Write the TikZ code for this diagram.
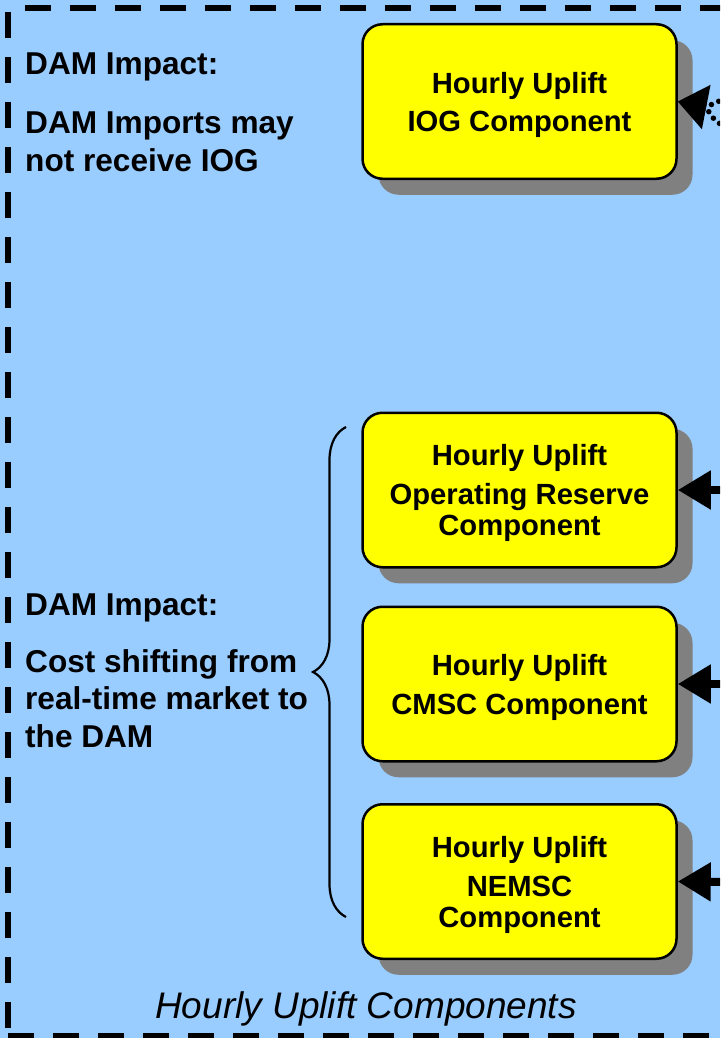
\documentclass[tikz,border=0pt]{standalone}
\usepackage{fontspec}
\setmainfont{Liberation Sans}
\usetikzlibrary{arrows.meta,shadows,decorations.pathreplacing}
\definecolor{panelblue}{HTML}{99CCFF}
\definecolor{boxyellow}{HTML}{FFFF00}
\definecolor{shadowgray}{HTML}{808080}
\tikzset{
  component/.style={draw=black, line width=2.5pt, fill=boxyellow,
    rounded corners=20pt, minimum width=314pt, minimum height=154.5pt,
    inner sep=0pt,
    drop shadow={shadow xshift=16pt, shadow yshift=-16pt,
      fill=shadowgray, opacity=1, draw=none}},
  boxtext/.style={inner sep=0pt, align=center,
    font=\fontsize{29.2}{31}\selectfont\bfseries},
  sidetext/.style={anchor=base west, inner sep=0pt,
    font=\fontsize{31.6}{37}\selectfont\bfseries},
  caption/.style={anchor=base, inner sep=0pt,
    font=\fontsize{37}{40}\selectfont\itshape},
  frame/.style={line width=6pt, dash pattern=on 26pt off 19pt},
  feed/.style={line width=8pt, -{Triangle[length=33pt,width=37pt]}},
  dotfeed/.style={line width=5.5pt, line cap=round,
    dash pattern=on 0pt off 8pt},
  bracket/.style={line width=2.2pt, decorate,
    decoration={brace, amplitude=33pt}}
}
\begin{document}
\begin{tikzpicture}[x=1pt,y=-1pt]
  \useasboundingbox (0,0) rectangle (720,1038);
  \clip (0,0) rectangle (720,1038);
  \fill[panelblue] (0,0) rectangle (720,1038);

  % dashed panel outline (right edge lies beyond the panel)
  \draw[frame] (25,8) -- (760,8);
  \draw[frame] (8,12) -- (8,1060);
  \draw[frame] (8,1036) -- (760,1036);

  % uplift component boxes
  \node[component] (iog) at (519.5,101.5) {};
  \node[component] (opres) at (519.5,490) {};
  \node[component] (cmsc) at (519.5,684) {};
  \node[component] (nemsc) at (519.5,881.5) {};
  \node[boxtext] (iogText) at ([yshift=-3pt]iog.center)
    {Hourly Uplift\\[7pt]IOG Component};
  \node[boxtext] (opresText) at ([yshift=-3pt]opres.center)
    {Hourly Uplift\\[8pt]Operating Reserve\\Component};
  \node[boxtext] (cmscText) at ([yshift=-3pt]cmsc.center)
    {Hourly Uplift\\[8pt]CMSC Component};
  \node[boxtext] (nemscText) at ([yshift=-3pt]nemsc.center)
    {Hourly Uplift\\[8pt]NEMSC\\Component};

  % incoming feeds from the right
  \coordinate (inOR) at (730,490);
  \coordinate (inCMSC) at (730,684);
  \coordinate (inNEMSC) at (730,882);
  \draw[feed] (inOR) -- (opres.east);
  \draw[feed] (inCMSC) -- (cmsc.east);
  \draw[feed] (inNEMSC) -- (nemsc.east);

  % dotted feed into the IOG box
  \coordinate (inIOGa) at (726,98);
  \coordinate (inIOGb) at (726,128);
  \coordinate (iogJoin) at (706,107);
  \draw[dotfeed] (inIOGa) -- (iogJoin);
  \draw[dotfeed] (inIOGb) .. controls (713,119) .. (iogJoin);
  \draw[line width=5pt, -{Triangle[length=29pt,width=44pt]}]
    (iogJoin) -- (iog.east);

  % brace grouping the three real-time components
  \coordinate (braceLow) at (346,917);
  \coordinate (braceHigh) at (346,427);
  \draw[bracket] (braceLow) -- (braceHigh);

  % impact notes
  \node[sidetext] (impactA) at (25,75) {DAM Impact:};
  \node[sidetext] (noteA1) at (25,133) {DAM Imports may};
  \node[sidetext] (noteA2) at (25,171) {not receive IOG};
  \node[sidetext] (impactB) at (25,615) {DAM Impact:};
  \node[sidetext] (noteB1) at (25,672) {Cost shifting from};
  \node[sidetext] (noteB2) at (25,709) {real-time market to};
  \node[sidetext] (noteB3) at (25,747) {the DAM};

  \node[caption] (title) at (366,1018) {Hourly Uplift Components};
\end{tikzpicture}
\end{document}
